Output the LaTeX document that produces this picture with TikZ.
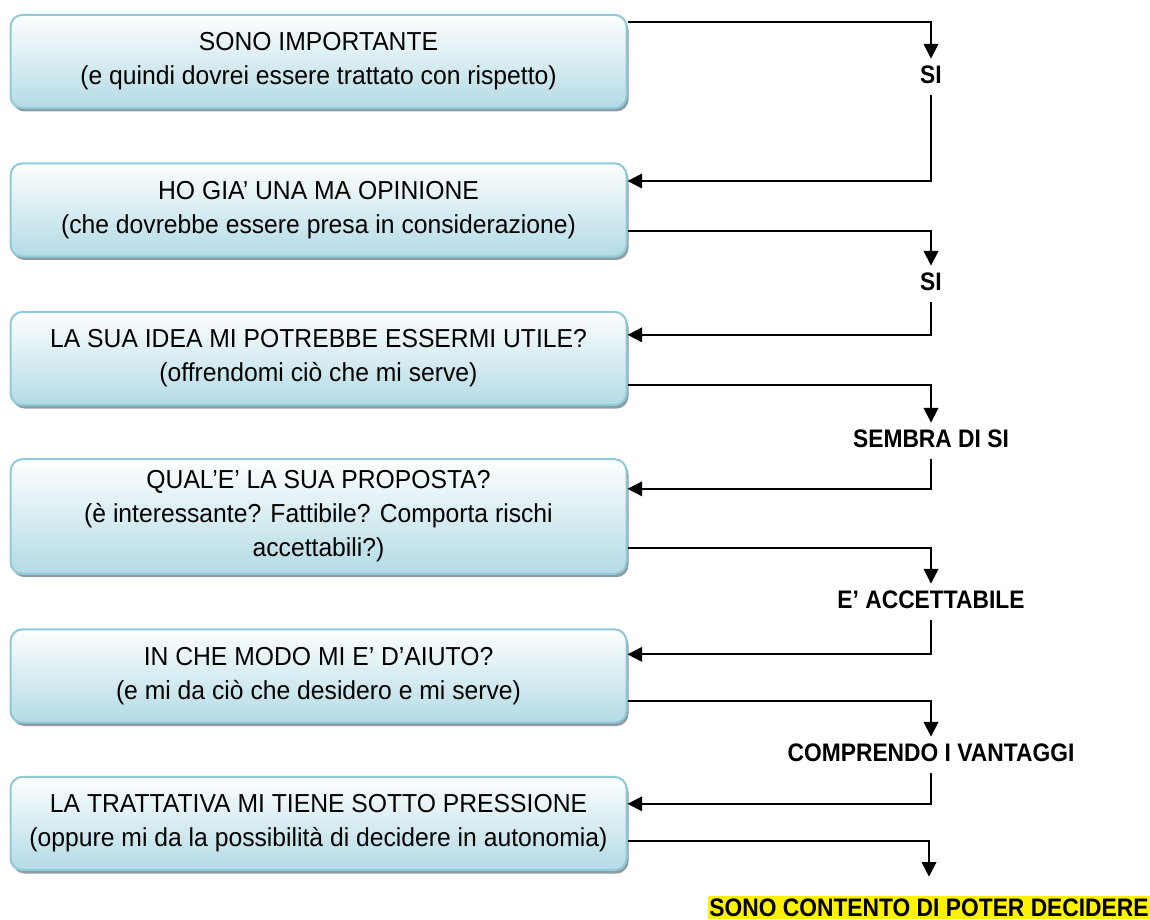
\documentclass[tikz,border=0pt]{standalone}
\usepackage{fontspec}
\setmainfont{Liberation Sans}[FakeStretch=0.95,BoldFeatures={FakeStretch=0.9}]
\usetikzlibrary{arrows.meta,shadows}
\definecolor{boxedge}{HTML}{8FCAD8}
\definecolor{boxtop}{HTML}{FDFEFE}
\definecolor{boxbot}{HTML}{B3DBE5}
\definecolor{boxshade}{HTML}{8E9BA3}
\begin{document}
\begin{tikzpicture}[x=0.75pt,y=-0.75pt,
  box/.style={draw=boxedge,line width=1.5pt,rounded corners=9pt,top color=boxtop,bottom color=boxbot,
    minimum width=462pt,minimum height=70pt,align=center,font=\fontsize{19.5pt}{25.5pt}\selectfont,
    drop shadow={shadow xshift=1.5pt,shadow yshift=-2.5pt,fill=boxshade,opacity=1}},
  lab/.style={font=\fontsize{19pt}{22pt}\selectfont\bfseries,inner xsep=2pt,inner ysep=5pt,text depth=4pt},
  link/.style={line width=1.3pt,-{Triangle[length=11pt,width=11pt]}}]
\useasboundingbox (0,0) rectangle (1150,920);

\node[box] (b1) at (318.5,61.5) {SONO IMPORTANTE\\(e quindi dovrei essere trattato con rispetto)};
\node[box] (b2) at (318.5,210) {HO GIA’ UNA MA OPINIONE\\(che dovrebbe essere presa in considerazione)};
\node[box] (b3) at (318.5,358.5) {LA SUA IDEA MI POTREBBE ESSERMI UTILE?\\(offrendomi ciò che mi serve)};
\node[box,minimum height=86pt] (b4) at (318.5,516.5) {QUAL’E’ LA SUA PROPOSTA?\\(è interessante? Fattibile? Comporta rischi\\accettabili?)};
\node[box] (b5) at (318.5,676) {IN CHE MODO MI E’ D’AIUTO?\\(e mi da ciò che desidero e mi serve)};
\node[box] (b6) at (318.5,823.5) {LA TRATTATIVA MI TIENE SOTTO PRESSIONE\\(oppure mi da la possibilità di decidere in autonomia)};

\node[lab] (l1) at (931,77) {SI};
\node[lab] (l2) at (931,284) {SI};
\node[lab] (l3) at (931,441) {SEMBRA DI SI};
\node[lab] (l4) at (931,602) {E’ ACCETTABILE};
\node[lab] (l5) at (931,755) {COMPRENDO I VANTAGGI};
\node[lab,fill=yellow,inner xsep=1pt,inner ysep=2pt,text depth=0pt,anchor=base] (l6) at (929,916) {SONO CONTENTO DI POTER DECIDERE};

\draw[link] ([yshift=-6pt]b1.north east) -| (l1.north);
\draw[link] (l1.south) |- ([yshift=-14pt]b2.north east);
\draw[link] ([yshift=20pt]b2.south east) -| (l2.north);
\draw[link] (l2.south) |- ([yshift=-18pt]b3.north east);
\draw[link] ([yshift=16pt]b3.south east) -| (l3.north);
\draw[link] (l3.south) |- ([yshift=-23pt]b4.north east);
\draw[link] ([yshift=20pt]b4.south east) -| (l4.north);
\draw[link] (l4.south) |- ([yshift=-19.5pt]b5.north east);
\draw[link] ([yshift=17pt]b5.south east) -| (l5.north);
\draw[link] (l5.south) |- ([yshift=-21pt]b6.north east);
\draw[link,shorten >=14pt] ([yshift=22.5pt]b6.south east) -| (l6.north);
\end{tikzpicture}
\end{document}
